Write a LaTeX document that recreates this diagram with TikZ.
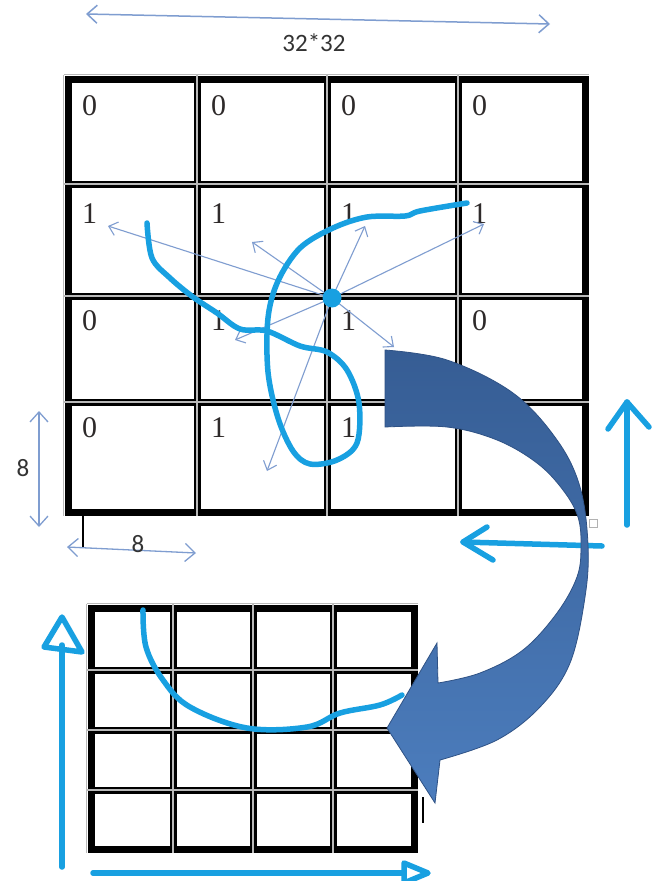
\documentclass[tikz,border=0pt]{standalone}
\usepackage{fontspec}
\setmainfont{Liberation Serif}
\newfontfamily\labelfont{Carlito}
\usetikzlibrary{arrows.meta}
\definecolor{pen}{HTML}{18A0E1}
\definecolor{thinblue}{HTML}{7F9DD0}
\definecolor{arrowtop}{HTML}{365D94}
\definecolor{arrowbot}{HTML}{4C7DBD}
\definecolor{arrowedge}{HTML}{2F5285}
\definecolor{digit}{HTML}{2E2A2A}
\tikzset{
  gridblack/.style={line width=7pt, line cap=rect, black},
  gridgray/.style={line width=1.1pt, gray!55},
  num/.style={anchor=north west, inner sep=0pt, font=\fontsize{30}{30}\selectfont, text=digit},
  thinarrow/.style={thinblue, line width=1.1pt, -{Straight Barb[length=8pt,width=14pt]}},
  dimarrow/.style={thinblue, line width=1.5pt, {Straight Barb[length=10pt,width=18pt]}-{Straight Barb[length=10pt,width=18pt]}},
  penstroke/.style={pen, line width=5.5pt, line cap=round, line join=round},
  dimlabel/.style={inner sep=0pt, font=\labelfont\fontsize{25}{25}\selectfont, text=black!80},
  bigarrow/.style={top color=arrowtop, bottom color=arrowbot, draw=arrowedge, line width=0.8pt},
}
\begin{document}
\begin{tikzpicture}[x=1pt,y=-1pt]
\useasboundingbox (0,0) rectangle (657,881);
\fill[white] (0,0) rectangle (657,881);

% ---- top dimension arrow
\coordinate (topL) at (86,14);
\coordinate (topR) at (550,24);
\draw[dimarrow] (topL) -- (topR);
\node[dimlabel] (size) at (314,43) {32*32};

% ---- big grid
\foreach \x in {68,197,327,458,585} \draw[gridblack] (\x,79) -- (\x,512);
\foreach \y in {79,184,296,402,512} \draw[gridblack] (68,\y) -- (585,\y);
\foreach \x in {197,327,458} \draw[gridgray] (\x,75) -- (\x,516);
\foreach \y in {184,296,402} \draw[gridgray] (64,\y) -- (589,\y);
\draw[gridgray] (63.5,75) -- (63.5,516);
\draw[gridgray] (63.5,74.5) -- (589,74.5);

% ---- numbers
\node[num] (n00) at (82,95) {0};
\node[num] (n01) at (211,95) {0};
\node[num] (n02) at (341,95) {0};
\node[num] (n03) at (472,95) {0};
\node[num] (n10) at (82,203) {1};
\node[num] (n11) at (211,203) {1};
\node[num] (n12) at (341,203) {1};
\node[num] (n13) at (472,203) {1};
\node[num] (n20) at (82,310) {0};
\node[num] (n21) at (211,310) {1};
\node[num] (n22) at (341,310) {1};
\node[num] (n23) at (472,310) {0};
\node[num] (n30) at (82,417) {0};
\node[num] (n31) at (211,417) {1};
\node[num] (n32) at (341,417) {1};

% ---- thin radiating arrows
\coordinate (c) at (332,298);
\coordinate (r1) at (108,226);
\coordinate (r2) at (252,242);
\coordinate (r3) at (365,226);
\coordinate (r4) at (484,224);
\coordinate (r5) at (235,340);
\coordinate (r6) at (394,347);
\coordinate (r7) at (267,471);
\foreach \e in {r1,r2,r3,r4,r5,r6,r7} \draw[thinarrow] (c) -- (\e);

% ---- pen stroke in big grid
\draw[penstroke] plot[smooth, tension=0.55] coordinates {
 (147,223) (152,258) (170,278) (193,297) (217,313) (240,329) (267,331)
 (300,346) (327,352) (347,370) (359,403) (357,443) (337,460) (310,464)
 (293,451) (278,418) (268,372) (268,318) (278,281) (300,248) (333,228)
 (367,217) (405,216) (420,211) (467,203)};
\fill[pen] (c) circle (9.5);

% ---- 8 dimension marks
\coordinate (vT) at (39,411);
\coordinate (vB) at (39,527);
\draw[dimarrow, line width=1.3pt] (vT) -- (vB);
\node[dimlabel] (eightL) at (23,468) {8};
\coordinate (tickA) at (83,512);
\coordinate (tickB) at (83,548);
\draw[black, line width=2pt] (tickA) -- (tickB);
\coordinate (hL) at (67,547);
\coordinate (hR) at (196,553);
\draw[dimarrow, line width=1.3pt] (hL) -- (hR);
\node[dimlabel] (eightB) at (138,544) {8};

% ---- small handle square
\draw[gray!60, line width=1pt, fill=white] (589,519) rectangle (597,527);

% ---- bottom grid
\foreach \x in {91,173,253,333,414} \draw[gridblack] (\x,608) -- (\x,849);
\foreach \y in {608,670,730,790,849} \draw[gridblack] (91,\y) -- (414,\y);
\foreach \x in {173,253,333} \draw[gridgray] (\x,604) -- (\x,853);
\foreach \y in {670,730,790} \draw[gridgray] (87,\y) -- (418,\y);
\draw[gridgray] (86.5,604) -- (86.5,853);
\draw[gridgray] (86.5,603.5) -- (418,603.5);
\coordinate (smA) at (423,797);
\coordinate (smB) at (423,823);
\draw[black, line width=2.5pt] (smA) -- (smB);

% ---- pen stroke in bottom grid
\draw[penstroke] plot[smooth, tension=0.6] coordinates {
 (143,610) (146,647) (163,680) (190,707) (247,728) (307,727) (340,713) (380,705) (402,695)};

% ---- cyan arrows
\coordinate (upB) at (627,525);
\coordinate (upT) at (627,402);
\draw[penstroke] (upB) -- (upT);
\draw[penstroke] (608,429) -- (upT) -- (649,427);
\coordinate (lfR) at (602,546);
\coordinate (lfT) at (463,542);
\draw[penstroke] (lfR) -- (lfT);
\draw[penstroke] (487,527) -- (lfT) -- (493,560);

\coordinate (vaB) at (62,867);
\coordinate (vaT) at (62,617);
\draw[penstroke] (vaB) -- (62,645);
\draw[penstroke] (vaT) -- (44,647) -- (82,652) -- cycle;
\coordinate (haL) at (93,873);
\coordinate (haT) at (428,873);
\draw[penstroke] (haL) -- (404,873);
\draw[penstroke] (haT) -- (404,863) -- (404,883) -- cycle;

% ---- big curved block arrow
\path[bigarrow] plot[smooth, tension=0.6] coordinates {
 (385,350) (447,360) (513,393) (557,440) (580,487) (588,545) (585,597)
 (570,663) (540,707) (497,740) (440,760)}
 -- (435,803) -- (387,728) -- (437,643)
 -- plot[smooth, tension=0.6] coordinates {
 (438,683) (480,673) (523,650) (557,613) (577,577) (581,547) (578,517)
 (563,490) (537,463) (497,440) (447,427) (385,427)} -- cycle;
\end{tikzpicture}
\end{document}
